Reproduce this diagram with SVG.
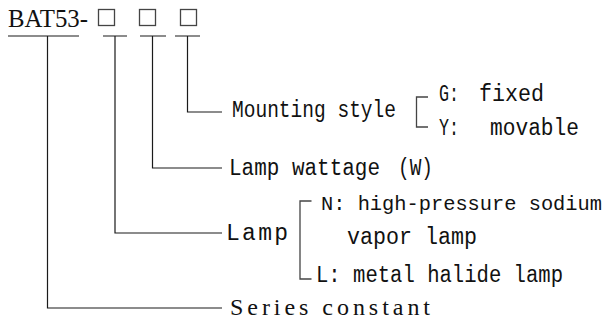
<svg xmlns="http://www.w3.org/2000/svg" width="608" height="321" viewBox="0 0 608 321">
<style>
text{font-family:"Liberation Mono","Courier New",monospace;font-size:23px;fill:#111;}
.serif{font-family:"Liberation Serif","Times New Roman",serif;}
.ln{fill:none;stroke:#1a1a1a;stroke-width:1.2;}
.br{fill:none;stroke:#444;stroke-width:1.3;}
.bx{fill:none;stroke:#444;stroke-width:1.3;}
</style>
<rect width="608" height="321" fill="#fff"/>
<g id="code">
<text class="serif" x="8" y="27" style="font-size:25px" textLength="80" lengthAdjust="spacingAndGlyphs">BAT53-</text>
<rect class="bx" x="98.5" y="9.5" width="16" height="16"/>
<rect class="bx" x="139.5" y="9.5" width="16" height="16"/>
<rect class="bx" x="180.5" y="9.5" width="16" height="16"/>
</g>
<g id="connectors">
<path class="ln" d="M8 36H79M103 36H127M140 36H166M175 36H200"/>
<path class="ln" d="M47.5 36V308H222"/>
<path class="ln" d="M115 36V233H222"/>
<path class="ln" d="M152.5 36V168H222"/>
<path class="ln" d="M187.5 36V112H222"/>
</g>
<g id="mounting">
<text x="232" y="117" textLength="164" lengthAdjust="spacingAndGlyphs">Mounting style</text>
<path class="br" d="M428 97H416.5V127H428"/>
<text x="439" y="101" textLength="20" lengthAdjust="spacingAndGlyphs">G:</text>
<text x="479" y="101" textLength="65" lengthAdjust="spacingAndGlyphs">fixed</text>
<text x="439" y="135" textLength="20" lengthAdjust="spacingAndGlyphs">Y:</text>
<text x="490" y="135" textLength="89" lengthAdjust="spacingAndGlyphs">movable</text>
</g>
<g id="wattage">
<text x="229" y="175" textLength="151" lengthAdjust="spacingAndGlyphs">Lamp wattage</text>
<text x="398" y="175" textLength="35" lengthAdjust="spacingAndGlyphs">(W)</text>
</g>
<g id="lamp">
<text x="226" y="240" textLength="62">Lamp</text>
<path class="br" d="M311.5 201H300V279H311.5"/>
<text x="321" y="210" style="font-size:20.5px" textLength="281" lengthAdjust="spacingAndGlyphs">N: high-pressure sodium</text>
<text x="347" y="244" textLength="130" lengthAdjust="spacingAndGlyphs">vapor lamp</text>
<text x="316" y="282" textLength="247" lengthAdjust="spacingAndGlyphs">L: metal halide lamp</text>
</g>
<g id="series">
<text class="serif" x="230" y="315" style="font-size:24px" textLength="200">Series constant</text>
</g>
</svg>
